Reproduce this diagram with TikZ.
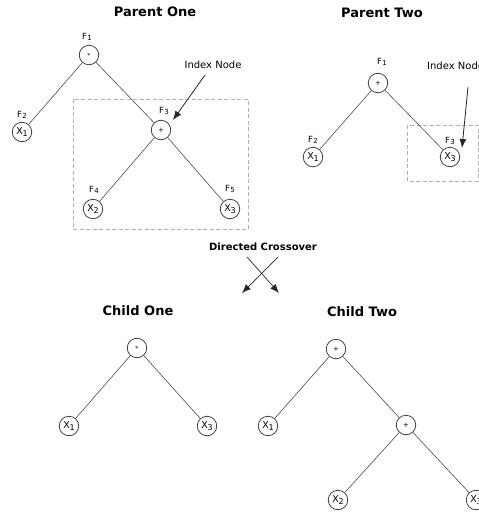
\documentclass[tikz,border=0pt]{standalone}
\usepackage{fontspec}
\setmainfont{DejaVu Sans}
\usetikzlibrary{arrows.meta}
\tikzset{
  tnode/.style={circle,draw=black!75,line width=0.8pt,minimum size=19.5pt,inner sep=0pt,font=\fontsize{9.5}{10}\selectfont},
  opnode/.style={tnode,font=\fontsize{7}{8}\selectfont},
  flabel/.style={font=\fontsize{8.5}{9}\selectfont,inner sep=0pt},
  title/.style={font=\fontsize{13}{15}\selectfont\bfseries,inner sep=0pt},
  edge/.style={draw=black!70,line width=0.6pt},
  box/.style={draw=black!30,dashed,dash pattern=on 4pt off 2.5pt,line width=0.8pt},
  pointer/.style={draw=black!85,line width=0.8pt,-{Latex[length=9pt,width=7pt]}},
  note/.style={font=\fontsize{10}{12}\selectfont,inner sep=0pt}
}
% variable and function labels with a raised/lowered index
\newcommand{\vx}[1]{X\kern-0.3pt\raisebox{-2.2pt}{\fontsize{8}{8}\selectfont#1}}
\newcommand{\fl}[1]{F\kern0.5pt\raisebox{-1.5pt}{\fontsize{7}{7}\selectfont#1}}
\begin{document}
\begin{tikzpicture}[x=1pt,y=-1pt]
\useasboundingbox (0,0) rectangle (479,512);
\clip (0,0) rectangle (479,512);

% ---- Parent One ----
\node[title] (t1) at (155,12) {Parent One};
\draw[box] (73,99) rectangle (248,229);
\node[opnode] (a1) at (89,55) {$*$};
\node[tnode] (a2) at (22,132) {\vx1};
\node[opnode] (a3) at (161,130) {+};
\node[tnode] (a4) at (93,209) {\vx2};
\node[tnode] (a5) at (230,209) {\vx3};
\node[flabel] (fa1) at (87,37) {\fl1};
\node[flabel] (fa2) at (22,115) {\fl2};
\node[flabel] (fa3) at (164,111) {\fl3};
\node[flabel] (fa4) at (94,190) {\fl4};
\node[flabel] (fa5) at (230,189) {\fl5};
\draw[edge] (a1) -- (a2);
\draw[edge] (a1) -- (a3);
\draw[edge] (a3) -- (a4);
\draw[edge] (a3) -- (a5);
\node[note] (i1) at (213,65) {Index Node};
\coordinate (i1s) at (205,75);
\coordinate (i1e) at (173,120);
\draw[pointer] (i1s) -- (i1e);

% ---- Parent Two ----
\node[title] (t2) at (382,13) {Parent Two};
\draw[box] (407,125) rectangle (478,181);
\node[opnode] (b1) at (378,83) {+};
\node[tnode] (b2) at (313,157) {\vx1};
\node[tnode] (b3) at (450,157) {\vx3};
\node[flabel] (fb1) at (382,62) {\fl1};
\node[flabel] (fb2) at (313,140) {\fl2};
\node[flabel] (fb3) at (450,141) {\fl3};
\draw[edge] (b1) -- (b2);
\draw[edge] (b1) -- (b3);
\node[note,anchor=west] (i2) at (427,66) {Index Node};
\coordinate (i2s) at (468,87);
\coordinate (i2e) at (462,148);
\draw[pointer] (i2s) -- (i2e);

% ---- Crossover ----
\node[font=\fontsize{10}{12}\selectfont\bfseries,inner sep=0pt] (dc) at (263,247) {Directed Crossover};
\coordinate (c1) at (247,257);
\coordinate (c2) at (279,293);
\coordinate (c3) at (278,257);
\coordinate (c4) at (242,293);
\draw[pointer,line width=0.7pt] (c1) -- (c2);
\draw[pointer,line width=0.7pt] (c3) -- (c4);

% ---- Child One ----
\node[title] (t3) at (138,311) {Child One};
\node[opnode] (d1) at (137,348) {$*$};
\node[tnode] (d2) at (69,426) {\vx1};
\node[tnode] (d3) at (207,426) {\vx3};
\draw[edge] (d1) -- (d2);
\draw[edge] (d1) -- (d3);

% ---- Child Two ----
\node[title] (t4) at (362,312) {Child Two};
\node[opnode] (e1) at (336,349) {+};
\node[tnode] (e2) at (268,426) {\vx1};
\node[opnode] (e3) at (406,425) {+};
\node[tnode] (e4) at (338,500) {\vx2};
\node[tnode] (e5) at (476,500) {\vx3};
\draw[edge] (e1) -- (e2);
\draw[edge] (e1) -- (e3);
\draw[edge] (e3) -- (e4);
\draw[edge] (e3) -- (e5);
\end{tikzpicture}
\end{document}
